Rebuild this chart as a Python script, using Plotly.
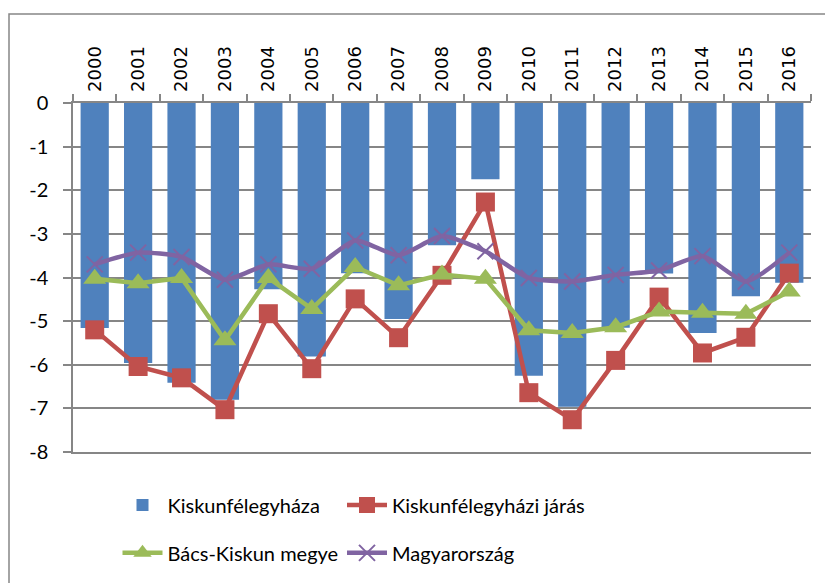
import plotly.graph_objects as go

years = [str(y) for y in range(2000, 2017)]
kiskunfelegyhaza = [-5.16, -5.96, -6.41, -6.80, -4.27, -5.81, -3.90, -4.95, -3.26, -1.75,
                    -6.25, -6.96, -5.15, -3.91, -5.27, -4.43, -4.12]
jaras = [-5.20, -6.04, -6.30, -7.03, -4.83, -6.09, -4.49, -5.38, -3.95, -2.27,
         -6.64, -7.26, -5.90, -4.45, -5.73, -5.37, -3.90]
megye = [-4.03, -4.13, -4.01, -5.44, -4.01, -4.72, -3.76, -4.18, -3.93, -4.03,
         -5.21, -5.27, -5.14, -4.78, -4.81, -4.83, -4.32]
orszag = [-3.70, -3.43, -3.53, -4.05, -3.70, -3.80, -3.15, -3.49, -3.05, -3.40,
          -4.01, -4.09, -3.94, -3.84, -3.51, -4.09, -3.43]
y_ticks = [0, -1, -2, -3, -4, -5, -6, -7, -8]

GRID = "#868686"
LFONT = dict(family="Lato, sans-serif", size=20, color="black")

fig = go.Figure()
fig.add_trace(go.Bar(x=years, y=kiskunfelegyhaza, name="Kiskunfélegyháza",
                     marker=dict(color="#4F81BD", line=dict(width=0)), legend="legend"))
fig.add_trace(go.Scatter(x=years, y=jaras, name="Kiskunfélegyházi járás", mode="lines+markers",
                         line=dict(color="#C0504D", width=4.5),
                         marker=dict(symbol="square", size=19, color="#C0504D"), legend="legend2"))
fig.add_trace(go.Scatter(x=years, y=megye, name="Bács-Kiskun megye", mode="lines+markers",
                         line=dict(color="#9BBB59", width=4.5),
                         marker=dict(symbol="triangle-up", size=20, color="#9BBB59"), legend="legend3"))
fig.add_trace(go.Scatter(x=years, y=orszag, name="Magyarország", mode="lines+markers",
                         line=dict(color="#8064A2", width=4.5, shape="spline", smoothing=0.6),
                         marker=dict(symbol="x-thin", size=16, line=dict(color="#8064A2", width=2)),
                         legend="legend4"))

leg_common = dict(orientation="h", xanchor="left", yanchor="middle",
                  font=LFONT, itemwidth=40, bgcolor="rgba(0,0,0,0)")
col1, col2 = 0.0603, 0.3645
row1, row2 = -0.152, -0.289

# page body has an 8px margin: figure pixel = screen pixel - 8
fig.update_layout(
    width=833, height=583,
    margin=dict(l=65, r=30, t=95, b=139, autoexpand=False),
    paper_bgcolor="white", plot_bgcolor="white",
    bargap=0.35,
    showlegend=True,
    legend=dict(x=col1, y=row1, **leg_common),
    legend2=dict(x=col2, y=row1, **leg_common),
    legend3=dict(x=col1, y=row2, **leg_common),
    legend4=dict(x=col2, y=row2, **leg_common),
    xaxis=dict(type="category", side="top", range=[-0.5, 16.5], automargin=False,
               tickmode="array", tickvals=years, ticktext=["\u00a0" + y for y in years],
               showline=True, linecolor=GRID, linewidth=1.5, mirror=True,
               ticks="outside", tickson="boundaries", ticklen=7, tickcolor=GRID, tickwidth=1.5,
               tickangle=-90,
               tickfont=dict(family="DejaVu Sans", size=18, color="black"),
               showgrid=False),
    yaxis=dict(range=[-8, 0], tickvals=y_ticks, ticktext=[str(v) for v in y_ticks],
               automargin=False,
               showline=True, linecolor=GRID, linewidth=1.5,
               ticks="outside", ticklen=8, tickcolor=GRID, tickwidth=1.5,
               showgrid=True, gridcolor=GRID, gridwidth=1.5, zeroline=False,
               ticklabelstandoff=11,
               tickfont=LFONT),
    shapes=[dict(type="rect", xref="paper", yref="paper",
                 x0=(9 - 73) / 738, x1=1.2, y0=-1.0, y1=1 + (103 - 14) / 349,
                 line=dict(color=GRID, width=1.5), fillcolor="rgba(0,0,0,0)", layer="below")],
)

fig.write_html("out.html")
